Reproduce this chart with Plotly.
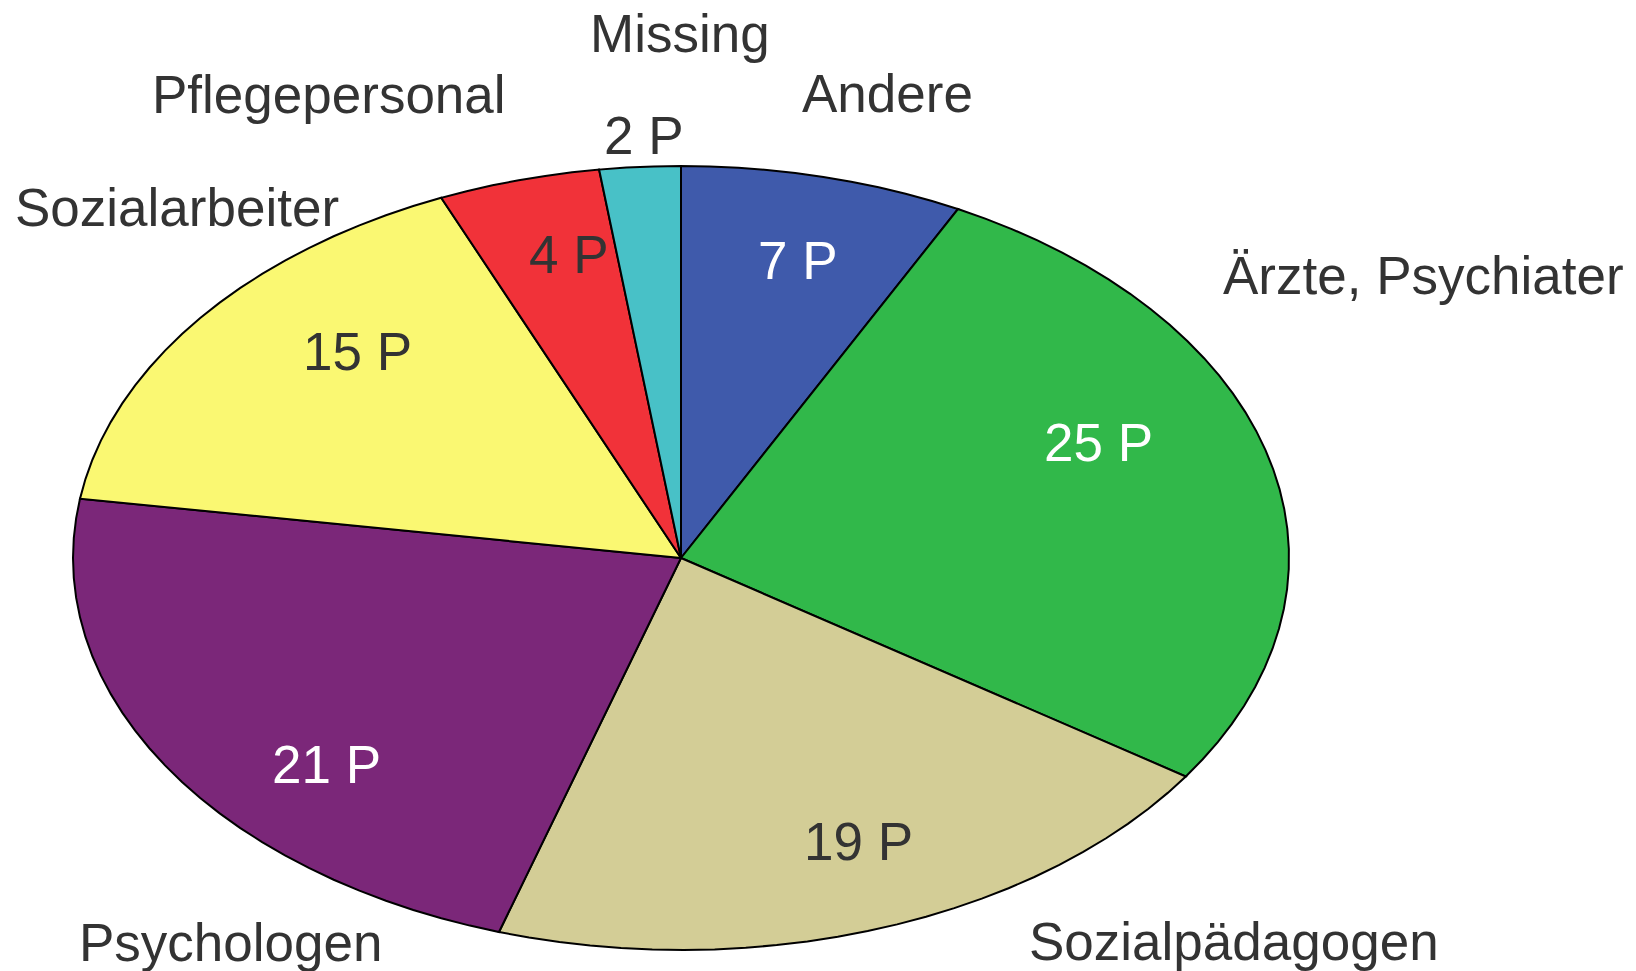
import numpy as np
import plotly.graph_objects as go

# ---- data ----
categories = ["Andere", "Ärzte, Psychiater", "Sozialpädagogen", "Psychologen",
              "Sozialarbeiter", "Pflegepersonal", "Missing"]
counts = [7, 25, 19, 21, 15, 4, 2]
value_labels = [f"{c} P" for c in counts]

# ---- styles ----
colors = ["#3F5AAB", "#31B84A", "#D3CD96", "#7B2779", "#FAF872", "#F13239", "#48C1C7"]
inner_text_colors = ["white", "white", "#333333", "white", "#333333", "#333333", "#333333"]
TEXT = "#333333"
FONT = "Arial, Liberation Sans, sans-serif"
FS = 53

W, H = 1636, 971
PAGE_OFF = 8               # default body margin of the html page
CX, CY = 681 - PAGE_OFF, 558 - PAGE_OFF   # pixel centre of the pie within the figure
RX, RY = 608, 392          # pixel radii of the ellipse

# pixel shifts (right, down) for labels relative to their anchor points
inner_shift = [(6, 0), (-42, -39), (20, -5), (48, 45), (52, -19), (15, -9), (-5, -117)]
outer_shift = [(64, -83), (154, -184), (351, 14), (65, 177), (-23, -111), (-190, -86), (40, -133)]
INNER_K = 0.78

fig = go.Figure()
total = sum(counts)
cum = np.cumsum([0] + counts)
annotations = []
for i, (cat, v) in enumerate(zip(categories, counts)):
    a0 = cum[i] / total * 2 * np.pi
    a1 = cum[i + 1] / total * 2 * np.pi
    n = max(2, int(np.ceil((a1 - a0) / np.radians(3))))
    t = np.linspace(a0, a1, n + 1)
    xs = np.concatenate([[0], np.sin(t), [0]])
    ys = np.concatenate([[0], np.cos(t), [0]])
    fig.add_trace(go.Scatter(x=xs, y=ys, mode="lines", fill="toself",
                             fillcolor=colors[i], line=dict(color="black", width=2),
                             hoverinfo="skip", showlegend=False, name=cat))
    mid = (a0 + a1) / 2
    sx, sy = inner_shift[i]
    annotations.append(dict(x=INNER_K * np.sin(mid), y=INNER_K * np.cos(mid),
                            text=value_labels[i], showarrow=False,
                            xshift=sx, yshift=-sy,
                            font=dict(family=FONT, size=FS, color=inner_text_colors[i])))
    ox, oy = outer_shift[i]
    annotations.append(dict(x=np.sin(mid), y=np.cos(mid), text=cat, showarrow=False,
                            xshift=ox, yshift=-oy,
                            font=dict(family=FONT, size=FS, color=TEXT)))

fig.update_layout(
    width=W, height=H,
    margin=dict(l=0, r=0, t=0, b=0),
    paper_bgcolor="white", plot_bgcolor="white",
    annotations=annotations,
    xaxis=dict(range=[-CX / RX, (W - CX) / RX], visible=False, fixedrange=True),
    yaxis=dict(range=[-(H - CY) / RY, CY / RY], visible=False, fixedrange=True),
)
fig.write_html("out.html")
